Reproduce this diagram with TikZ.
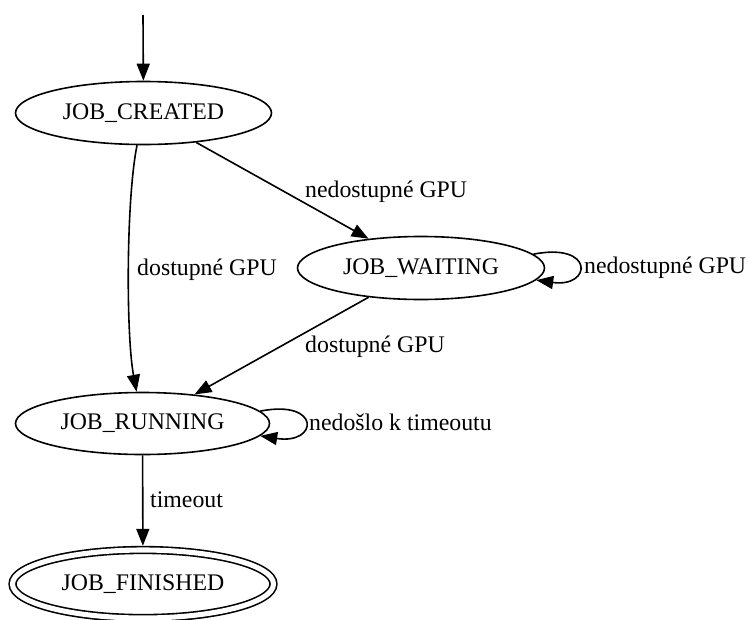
\documentclass[tikz,border=0pt]{standalone}
\usepackage{fontspec}
\setmainfont{Liberation Serif}
\usetikzlibrary{shapes.geometric,arrows.meta}
\tikzset{
  txt/.style={font=\fontsize{23.8}{28}\selectfont},
  state/.style={txt, ellipse, draw, line width=1.6pt, inner sep=0pt},
  edge/.style={line width=1.6pt, -{Triangle[length=17pt,width=13pt]}},
  lab/.style={txt, inner sep=0pt, anchor=base west},
}
\begin{document}
\begin{tikzpicture}[x=1pt,y=-1pt]
\useasboundingbox (0,0) rectangle (749,619);
\coordinate (start) at (143,15);
\node[state, minimum width=256pt, minimum height=63pt] (C) at (143.5,113) {JOB\_CREATED};
\node[state, minimum width=247pt, minimum height=63pt] (W) at (421,268) {JOB\_WAITING};
\node[state, minimum width=254pt, minimum height=62pt] (R) at (142.5,423.5) {JOB\_RUNNING};
\node[state, double, double distance=5.1pt, minimum width=261pt, minimum height=68pt, outer sep=4.2pt] (F) at (143,584) {JOB\_FINISHED};

\draw[edge] (start) -- (C);
\draw[edge] (C) -- (W);
\draw[edge] (C) .. controls (126,200) and (126,335) .. (R);
\draw[edge] (W) -- (R);
\draw[edge] (W.7.8) .. controls (595,242) and (592,288) .. (W.-6.6);
\draw[edge] (R.6.7) .. controls (321.5,399) and (318.5,445) .. (R.-6.7);
\draw[edge] (R) -- (F);

\node[lab] (lcr) at (137,275) {dostupné GPU};
\node[lab] (lcw) at (305,197) {nedostupné GPU};
\node[lab] (lww) at (584,273) {nedostupné GPU};
\node[lab] (lwr) at (305,352) {dostupné GPU};
\node[lab] (lrr) at (309,430) {nedošlo k timeoutu};
\node[lab] (lrf) at (150,507) {timeout};
\end{tikzpicture}
\end{document}
